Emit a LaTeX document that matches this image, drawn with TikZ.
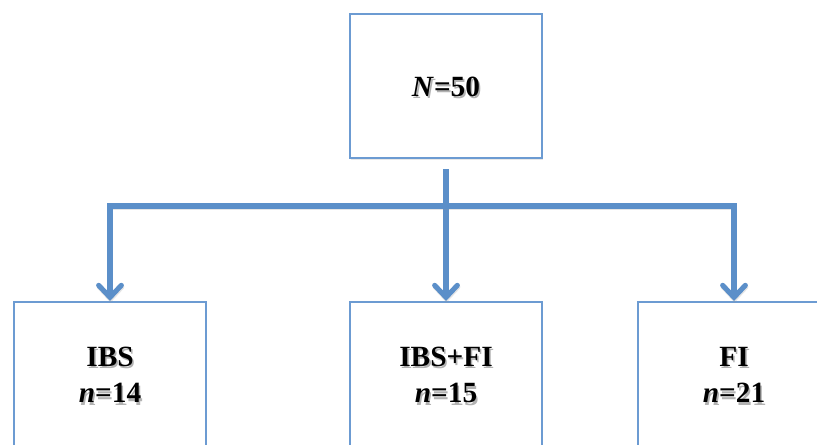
\documentclass[tikz,border=0pt]{standalone}
\usepackage{fontspec}
\setmainfont{Liberation Serif}
\usetikzlibrary{arrows.meta,shadows}
\definecolor{boxline}{HTML}{6C9BD2}
\definecolor{flowline}{HTML}{5B8FC9}
% one line of text with a soft grey copy set just below it
\newcommand{\shadowline}[1]{\leavevmode\rlap{\kern1.2pt\raisebox{-1.8pt}{\textcolor{black!30}{#1}}}#1}
\tikzset{
  px/.style={x=0.75pt,y=-0.75pt},
  groupbox/.style={draw=boxline,line width=1.5pt,fill=white,
    minimum width=144pt,minimum height=108pt,inner sep=0pt,
    drop shadow={opacity=0.18,shadow xshift=0.8pt,shadow yshift=-1.2pt}},
  grouptext/.style={font=\fontsize{22}{27.5}\selectfont\bfseries,align=center,
    yshift=-1.5pt},
  link/.style={draw=flowline,line width=3.8pt,line join=miter,
    preaction={draw=black!40,opacity=0.25,line width=3.8pt,
      transform canvas={shift={(0.4pt,-1.2pt)}}}},
  arrowlink/.style={link,-{Straight Barb[length=9pt,width=17pt,line cap=round]}}
}
\begin{document}
\begin{tikzpicture}[px]
  \useasboundingbox (0,0) rectangle (817,444);
  \clip (0,0) rectangle (817,444);

  % group boxes
  \node[groupbox] (top)  at (446,86)  {};
  \node[groupbox] (ibs)  at (110,374) {};
  \node[groupbox] (both) at (446,374) {};
  \node[groupbox] (fi)   at (734,374) {};

  % labels
  \node[grouptext] (toptext)  at (top.center)  {\shadowline{\textit{N}=50}};
  \node[grouptext] (ibstext)  at (ibs.center)  {\shadowline{IBS}\\\shadowline{\textit{n}=14}};
  \node[grouptext] (bothtext) at (both.center) {\shadowline{IBS+FI}\\\shadowline{\textit{n}=15}};
  \node[grouptext] (fitext)   at (fi.center)   {\shadowline{FI}\\\shadowline{\textit{n}=21}};

  % connectors: stem from the top box, bus, and three arrows
  \coordinate (hub) at (446,206);
  \draw[arrowlink] ([yshift=-7.5pt]top.south) -- (both.north);
  \draw[arrowlink] (hub) -| (ibs.north);
  \draw[arrowlink] (hub) -| (fi.north);
\end{tikzpicture}
\end{document}
